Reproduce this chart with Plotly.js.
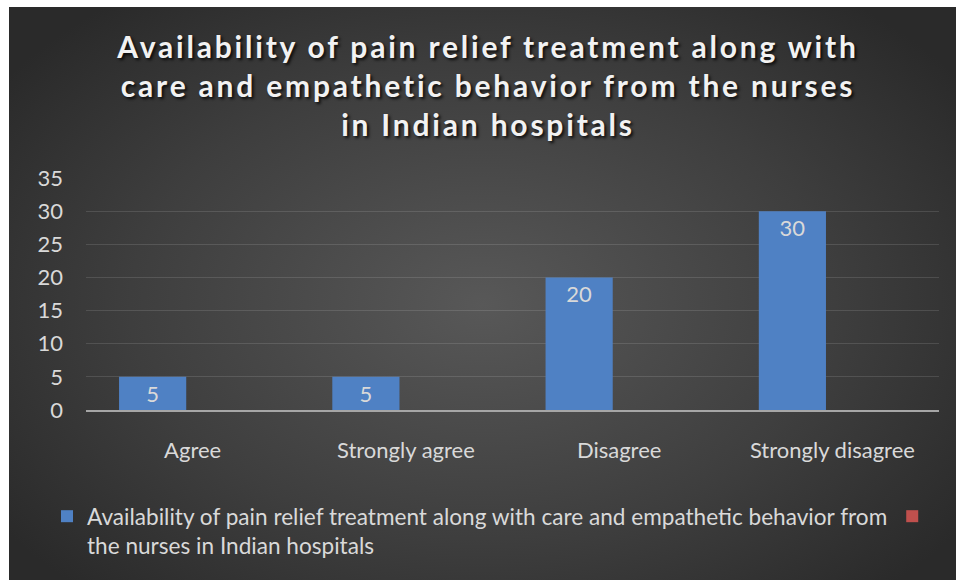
<!DOCTYPE html>
<html><head><meta charset="utf-8">
<script src="https://cdn.plot.ly/plotly-3.0.1.min.js"></script>
<style>
html,body{margin:0;padding:0;background:#ffffff;}
#bg{position:absolute;left:9px;top:7px;width:947px;height:573px;
background:radial-gradient(ellipse 62% 68% at 50% 52%, #585858 0%, #3e3e3e 60%, #2a2a2a 100%);}
#chart{position:absolute;left:0;top:0;width:956px;height:580px;}
</style></head><body>
<div id="bg"></div><div id="chart"></div>
<script>
const categories = ['Agree', 'Strongly agree', 'Disagree', 'Strongly disagree'];
const seriesName = 'Availability of pain relief treatment along with care and empathetic behavior from<br>the nurses in Indian hospitals';
const values = [5, 5, 20, 30];
const emptySeries = [0, 0, 0, 0];
const yTicks = [0, 5, 10, 15, 20, 25, 30, 35];
const titleLines = ['Availability of pain relief treatment along with', 'care and empathetic behavior from the nurses', 'in Indian hospitals'];

const FONT = 'Lato, "Open Sans", sans-serif';
const TXT = '#d9d9d9';

const traces = [
  {
    type: 'bar', x: categories, y: values, name: seriesName,
    marker: {color: '#4f81c4', line: {width: 0}},
    text: values.map(String), textposition: 'inside', insidetextanchor: 'end',
    textfont: {family: FONT, size: 22, color: TXT}, constraintext: 'none',
    hoverinfo: 'skip'
  },
  {
    type: 'bar', x: categories, y: emptySeries, name: ' ',
    marker: {color: '#c0504d', line: {width: 0}},
    hoverinfo: 'skip'
  }
];

const layout = {
  width: 956, height: 580,
  paper_bgcolor: 'rgba(0,0,0,0)', plot_bgcolor: 'rgba(0,0,0,0)',
  margin: {l: 86, r: 17, t: 178, b: 170},
  barmode: 'group', bargap: 0.25, bargroupgap: 0.16,
  title: {
    text: titleLines.map(s => '<span style="letter-spacing:2.8px">' + s + '</span>').join('<br>'),
    x: 488 / 956, xanchor: 'center', y: 1 - 58 / 580, yanchor: 'middle',
    font: {family: FONT, size: 30, weight: 700, color: '#f2f2f2', shadow: '2px 2px 3px rgba(0,0,0,0.8)'}
  },
  font: {family: FONT, color: TXT},
  xaxis: {
    type: 'category', showgrid: false, showline: true, linecolor: '#a6a6a6', linewidth: 2,
    ticks: '', tickfont: {family: FONT, size: 22, color: TXT}, ticklabelstandoff: 20,
    fixedrange: true
  },
  yaxis: {
    range: [0, 35], tickvals: yTicks, showgrid: true, gridcolor: 'rgba(255,255,255,0.12)', gridwidth: 1,
    zeroline: false, showline: false, ticks: '',
    tickfont: {family: FONT, size: 22, color: TXT}, ticklabelstandoff: 22, fixedrange: true
  },
  showlegend: true,
  legend: {
    orientation: 'h', xref: 'paper', yref: 'paper', x: (47 - 86) / 853, xanchor: 'left',
    y: -(495 - 410) / 232, yanchor: 'top', valign: 'top', font: {family: FONT, size: 22.6, color: TXT},
    bgcolor: 'rgba(0,0,0,0)', traceorder: 'normal'
  }
};

Plotly.newPlot('chart', traces, layout, {displayModeBar: false, staticPlot: true});
</script>
</body></html>
